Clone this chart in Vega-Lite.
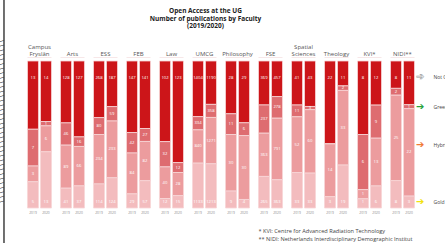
{
  "$schema": "https://vega.github.io/schema/vega-lite/v6.json",
  "width": 396,
  "height": 147,
  "autosize": "none",
  "padding": {"left": 23, "top": 61, "right": 26, "bottom": 35},
  "background": "white",
  "config": {"view": {"stroke": null}, "font": "Open Sans"},
  "resolve": {"axis": {"x": "independent", "y": "independent"}},
  "data": {"values": [
    {"f":"Campus Fryslân","y":"2019","c":"Not OA","k":4,"n":13},{"f":"Campus Fryslân","y":"2019","c":"Green","k":3,"n":7},{"f":"Campus Fryslân","y":"2019","c":"Hybrid","k":2,"n":3},{"f":"Campus Fryslân","y":"2019","c":"Gold","k":1,"n":5},
    {"f":"Campus Fryslân","y":"2020","c":"Not OA","k":4,"n":14},{"f":"Campus Fryslân","y":"2020","c":"Green","k":3,"n":1},{"f":"Campus Fryslân","y":"2020","c":"Hybrid","k":2,"n":6},{"f":"Campus Fryslân","y":"2020","c":"Gold","k":1,"n":13},
    {"f":"Arts","y":"2019","c":"Not OA","k":4,"n":128},{"f":"Arts","y":"2019","c":"Green","k":3,"n":46},{"f":"Arts","y":"2019","c":"Hybrid","k":2,"n":89},{"f":"Arts","y":"2019","c":"Gold","k":1,"n":41},
    {"f":"Arts","y":"2020","c":"Not OA","k":4,"n":127},{"f":"Arts","y":"2020","c":"Green","k":3,"n":16},{"f":"Arts","y":"2020","c":"Hybrid","k":2,"n":66},{"f":"Arts","y":"2020","c":"Gold","k":1,"n":37},
    {"f":"ESS","y":"2019","c":"Not OA","k":4,"n":268},{"f":"ESS","y":"2019","c":"Green","k":3,"n":80},{"f":"ESS","y":"2019","c":"Hybrid","k":2,"n":234},{"f":"ESS","y":"2019","c":"Gold","k":1,"n":114},
    {"f":"ESS","y":"2020","c":"Not OA","k":4,"n":187},{"f":"ESS","y":"2020","c":"Green","k":3,"n":59},{"f":"ESS","y":"2020","c":"Hybrid","k":2,"n":233},{"f":"ESS","y":"2020","c":"Gold","k":1,"n":124},
    {"f":"FEB","y":"2019","c":"Not OA","k":4,"n":147},{"f":"FEB","y":"2019","c":"Green","k":3,"n":42},{"f":"FEB","y":"2019","c":"Hybrid","k":2,"n":84},{"f":"FEB","y":"2019","c":"Gold","k":1,"n":29},
    {"f":"FEB","y":"2020","c":"Not OA","k":4,"n":141},{"f":"FEB","y":"2020","c":"Green","k":3,"n":27},{"f":"FEB","y":"2020","c":"Hybrid","k":2,"n":82},{"f":"FEB","y":"2020","c":"Gold","k":1,"n":57},
    {"f":"Law","y":"2019","c":"Not OA","k":4,"n":102},{"f":"Law","y":"2019","c":"Green","k":3,"n":32},{"f":"Law","y":"2019","c":"Hybrid","k":2,"n":40},{"f":"Law","y":"2019","c":"Gold","k":1,"n":12},
    {"f":"Law","y":"2020","c":"Not OA","k":4,"n":123},{"f":"Law","y":"2020","c":"Green","k":3,"n":12},{"f":"Law","y":"2020","c":"Hybrid","k":2,"n":28},{"f":"Law","y":"2020","c":"Gold","k":1,"n":15},
    {"f":"UMCG","y":"2019","c":"Not OA","k":4,"n":1404},{"f":"UMCG","y":"2019","c":"Green","k":3,"n":334},{"f":"UMCG","y":"2019","c":"Hybrid","k":2,"n":840},{"f":"UMCG","y":"2019","c":"Gold","k":1,"n":1133},
    {"f":"UMCG","y":"2020","c":"Not OA","k":4,"n":1190},{"f":"UMCG","y":"2020","c":"Green","k":3,"n":358},{"f":"UMCG","y":"2020","c":"Hybrid","k":2,"n":1271},{"f":"UMCG","y":"2020","c":"Gold","k":1,"n":1213},
    {"f":"Philosophy","y":"2019","c":"Not OA","k":4,"n":28},{"f":"Philosophy","y":"2019","c":"Green","k":3,"n":11},{"f":"Philosophy","y":"2019","c":"Hybrid","k":2,"n":30},{"f":"Philosophy","y":"2019","c":"Gold","k":1,"n":9},
    {"f":"Philosophy","y":"2020","c":"Not OA","k":4,"n":29},{"f":"Philosophy","y":"2020","c":"Green","k":3,"n":6},{"f":"Philosophy","y":"2020","c":"Hybrid","k":2,"n":30},{"f":"Philosophy","y":"2020","c":"Gold","k":1,"n":4},
    {"f":"FSE","y":"2019","c":"Not OA","k":4,"n":369},{"f":"FSE","y":"2019","c":"Green","k":3,"n":237},{"f":"FSE","y":"2019","c":"Hybrid","k":2,"n":363},{"f":"FSE","y":"2019","c":"Gold","k":1,"n":265},
    {"f":"FSE","y":"2020","c":"Not OA","k":4,"n":457},{"f":"FSE","y":"2020","c":"Green","k":3,"n":278},{"f":"FSE","y":"2020","c":"Hybrid","k":2,"n":791},{"f":"FSE","y":"2020","c":"Gold","k":1,"n":363},
    {"f":"Spatial Sciences","y":"2019","c":"Not OA","k":4,"n":41},{"f":"Spatial Sciences","y":"2019","c":"Green","k":3,"n":11},{"f":"Spatial Sciences","y":"2019","c":"Hybrid","k":2,"n":52},{"f":"Spatial Sciences","y":"2019","c":"Gold","k":1,"n":33},
    {"f":"Spatial Sciences","y":"2020","c":"Not OA","k":4,"n":43},{"f":"Spatial Sciences","y":"2020","c":"Green","k":3,"n":3},{"f":"Spatial Sciences","y":"2020","c":"Hybrid","k":2,"n":60},{"f":"Spatial Sciences","y":"2020","c":"Gold","k":1,"n":33},
    {"f":"Theology","y":"2019","c":"Not OA","k":4,"n":22},{"f":"Theology","y":"2019","c":"Green","k":3,"n":0},{"f":"Theology","y":"2019","c":"Hybrid","k":2,"n":14},{"f":"Theology","y":"2019","c":"Gold","k":1,"n":3},
    {"f":"Theology","y":"2020","c":"Not OA","k":4,"n":11},{"f":"Theology","y":"2020","c":"Green","k":3,"n":2},{"f":"Theology","y":"2020","c":"Hybrid","k":2,"n":33},{"f":"Theology","y":"2020","c":"Gold","k":1,"n":19},
    {"f":"KVI*","y":"2019","c":"Not OA","k":4,"n":8},{"f":"KVI*","y":"2019","c":"Green","k":3,"n":6},{"f":"KVI*","y":"2019","c":"Hybrid","k":2,"n":1},{"f":"KVI*","y":"2019","c":"Gold","k":1,"n":1},
    {"f":"KVI*","y":"2020","c":"Not OA","k":4,"n":12},{"f":"KVI*","y":"2020","c":"Green","k":3,"n":9},{"f":"KVI*","y":"2020","c":"Hybrid","k":2,"n":13},{"f":"KVI*","y":"2020","c":"Gold","k":1,"n":6},
    {"f":"NIDI**","y":"2019","c":"Not OA","k":4,"n":8},{"f":"NIDI**","y":"2019","c":"Green","k":3,"n":2},{"f":"NIDI**","y":"2019","c":"Hybrid","k":2,"n":25},{"f":"NIDI**","y":"2019","c":"Gold","k":1,"n":8},
    {"f":"NIDI**","y":"2020","c":"Not OA","k":4,"n":11},{"f":"NIDI**","y":"2020","c":"Green","k":3,"n":1},{"f":"NIDI**","y":"2020","c":"Hybrid","k":2,"n":22},{"f":"NIDI**","y":"2020","c":"Gold","k":1,"n":3}
  ]},
  "layer": [
    {
      "mark": {"type": "bar", "stroke": "#f7d6d7", "strokeWidth": 0.8},
      "encoding": {
        "x": {"field": "f", "type": "nominal", "sort": null,
          "scale": {"domain": ["Campus Fryslân","Arts","ESS","FEB","Law","UMCG","Philosophy","FSE","Spatial Sciences","Theology","KVI*","NIDI**"], "paddingInner": 0.273, "paddingOuter": 0.136},
          "axis": {"orient": "top", "domain": false, "ticks": false, "labelAngle": 0, "labelFontSize": 6, "labelColor": "#555", "labelPadding": 12, "labelLineHeight": 7, "labelFont": "Open Sans", "labelOverlap": false, "labelLimit": 60,
            "labelExpr": "datum.value == 'Campus Fryslân' ? ['Campus', 'Fryslân'] : datum.value == 'Spatial Sciences' ? ['Spatial', 'Sciences'] : ['', datum.value]",
            "title": ["Open Access at the UG", "Number of publications by Faculty", "(2019/2020)"],
            "titleFont": "Open Sans", "titleFontSize": 6.5, "titleFontWeight": "bold", "titleColor": "#222", "titleLineHeight": 7.5,
            "titleX": 182, "titleY": -53.5, "titleAlign": "center", "titleBaseline": "top", "titleAngle": 0}},
        "xOffset": {"field": "y", "type": "nominal", "scale": {"paddingInner": 0.154, "paddingOuter": 0}},
        "y": {"field": "n", "type": "quantitative", "stack": "normalize", "axis": null},
        "color": {"field": "c", "type": "nominal", "legend": null,
          "scale": {"domain": ["Not OA", "Green", "Hybrid", "Gold"], "range": ["#cc1519", "#de6c70", "#ec9c9e", "#f3bcbe"]}},
        "order": {"field": "k", "type": "quantitative"}
      }
    },
    {
      "mark": {"type": "text", "color": "white", "fontSize": 4.2, "baseline": "middle", "dy": 17},
      "encoding": {
        "x": {"field": "f", "type": "nominal", "sort": null, "axis": null},
        "xOffset": {"field": "y", "type": "nominal"},
        "y": {"field": "n", "type": "quantitative", "stack": "normalize", "axis": null},
        "order": {"field": "k", "type": "quantitative"},
        "text": {"condition": {"test": "datum.c === 'Not OA'", "field": "n", "type": "quantitative"}, "value": ""}
      }
    },
    {
      "mark": {"type": "text", "color": "white", "fontSize": 4.2, "baseline": "middle"},
      "encoding": {
        "x": {"field": "f", "type": "nominal", "sort": null, "axis": null},
        "xOffset": {"field": "y", "type": "nominal"},
        "y": {"field": "n", "type": "quantitative", "stack": "normalize", "bandPosition": 0.5, "axis": null},
        "order": {"field": "k", "type": "quantitative"},
        "text": {"condition": {"test": "(datum.c === 'Green' || datum.c === 'Hybrid') && datum.n > 0", "field": "n", "type": "quantitative"}, "value": ""}
      }
    },
    {
      "mark": {"type": "text", "color": "white", "fontSize": 4.2, "baseline": "middle", "dy": -6},
      "encoding": {
        "x": {"field": "f", "type": "nominal", "sort": null, "axis": null},
        "xOffset": {"field": "y", "type": "nominal"},
        "y": {"field": "n", "type": "quantitative", "stack": "normalize", "bandPosition": 0, "axis": null},
        "order": {"field": "k", "type": "quantitative"},
        "text": {"condition": {"test": "datum.c === 'Gold'", "field": "n", "type": "quantitative"}, "value": ""}
      }
    },
    {
      "transform": [{"filter": "datum.c === 'Gold'"}],
      "mark": {"type": "text", "color": "#888", "fontSize": 3.3, "baseline": "top", "dy": 2.5},
      "encoding": {
        "x": {"field": "f", "type": "nominal", "sort": null, "axis": null},
        "xOffset": {"field": "y", "type": "nominal"},
        "y": {"datum": 0, "type": "quantitative", "axis": null},
        "text": {"field": "y", "type": "nominal"}
      }
    },
    {
      "transform": [{"filter": "datum.c === 'Gold' && datum.y === '2019'"}],
      "mark": {"type": "tick", "color": "#efcfd0", "thickness": 0.7, "size": 24, "yOffset": -3.5, "orient": "horizontal"},
      "encoding": {
        "x": {"field": "f", "type": "nominal", "sort": null, "axis": null},
        "y": {"datum": 1, "type": "quantitative", "axis": null}
      }
    },
    {
      "transform": [{"filter": "datum.f === 'NIDI**' && datum.y === '2020'"}],
      "encoding": {
        "x": {"field": "f", "type": "nominal", "sort": null, "axis": null},
        "xOffset": {"field": "y", "type": "nominal"},
        "order": {"field": "k", "type": "quantitative"}
      },
      "layer": [
        {
          "mark": {"type": "text", "font": "DejaVu Sans", "fontSize": 10, "align": "left", "baseline": "middle", "dx": 7, "stroke": "#999", "strokeWidth": 0.4},
          "encoding": {
            "y": {"field": "n", "type": "quantitative", "stack": "normalize", "bandPosition": 0.64, "axis": null},
            "text": {"condition": {"test": "datum.c === 'Not OA'", "value": "➔"}, "value": ""},
            "color": {"value": "#e6e6e6"}
          }
        },
        {
          "mark": {"type": "text", "fontSize": 5, "align": "left", "baseline": "middle", "dx": 24.5, "color": "#444"},
          "encoding": {
            "y": {"field": "n", "type": "quantitative", "stack": "normalize", "bandPosition": 0.64, "axis": null},
            "text": {"condition": {"test": "datum.c === 'Not OA'", "value": "Not OA"}, "value": ""}
          }
        },
        {
          "mark": {"type": "text", "font": "DejaVu Sans", "fontSize": 10, "align": "left", "baseline": "middle", "dx": 7, "color": "#27a33b"},
          "encoding": {
            "y": {"field": "n", "type": "quantitative", "stack": "normalize", "bandPosition": 0.5, "axis": null},
            "text": {"condition": {"test": "datum.c === 'Green'", "value": "➔"}, "value": ""}
          }
        },
        {
          "mark": {"type": "text", "fontSize": 5, "align": "left", "baseline": "middle", "dx": 24.5, "color": "#444"},
          "encoding": {
            "y": {"field": "n", "type": "quantitative", "stack": "normalize", "bandPosition": 0.5, "axis": null},
            "text": {"condition": {"test": "datum.c === 'Green'", "value": "Green"}, "value": ""}
          }
        },
        {
          "mark": {"type": "text", "font": "DejaVu Sans", "fontSize": 10, "align": "left", "baseline": "middle", "dx": 7, "color": "#f07a35"},
          "encoding": {
            "y": {"field": "n", "type": "quantitative", "stack": "normalize", "bandPosition": 0.59, "axis": null},
            "text": {"condition": {"test": "datum.c === 'Hybrid'", "value": "➔"}, "value": ""}
          }
        },
        {
          "mark": {"type": "text", "fontSize": 5, "align": "left", "baseline": "middle", "dx": 24.5, "color": "#444"},
          "encoding": {
            "y": {"field": "n", "type": "quantitative", "stack": "normalize", "bandPosition": 0.59, "axis": null},
            "text": {"condition": {"test": "datum.c === 'Hybrid'", "value": "Hybrid"}, "value": ""}
          }
        },
        {
          "mark": {"type": "text", "font": "DejaVu Sans", "fontSize": 10, "align": "left", "baseline": "middle", "dx": 7, "color": "#f2e20c"},
          "encoding": {
            "y": {"field": "n", "type": "quantitative", "stack": "normalize", "bandPosition": 0.5, "axis": null},
            "text": {"condition": {"test": "datum.c === 'Gold'", "value": "➔"}, "value": ""}
          }
        },
        {
          "mark": {"type": "text", "fontSize": 5, "align": "left", "baseline": "middle", "dx": 24.5, "color": "#444"},
          "encoding": {
            "y": {"field": "n", "type": "quantitative", "stack": "normalize", "bandPosition": 0.5, "axis": null},
            "text": {"condition": {"test": "datum.c === 'Gold'", "value": "Gold"}, "value": ""}
          }
        }
      ]
    },
    {
      "data": {"values": [{"note": "footnotes"}]},
      "mark": {"type": "text", "fontSize": 5.6, "align": "left", "baseline": "middle", "dy": 23, "lineHeight": 8, "color": "#444"},
      "encoding": {
        "x": {"datum": "FSE", "bandPosition": 0, "axis": null},
        "y": {"datum": 0, "type": "quantitative", "axis": null},
        "text": {"value": ["* KVI: Centre for Advanced Radiation Technology", "** NIDI: Netherlands Interdisciplinary Demographic Institut"]}
      }
    },
    {
      "data": {"values": [{"edge": "torn edge"}]},
      "layer": [
        {
          "mark": {"type": "rule", "color": "#111", "strokeWidth": 1.2, "xOffset": -23.5, "yOffset": 35, "y2Offset": -61},
          "encoding": {
            "x": {"datum": "Campus Fryslân", "bandPosition": 0, "axis": null},
            "y": {"datum": 0, "type": "quantitative", "axis": null},
            "y2": {"datum": 1}
          }
        },
        {
          "mark": {"type": "text", "angle": 270, "font": "DejaVu Sans", "fontSize": 7, "color": "#111", "baseline": "alphabetic", "align": "center", "xOffset": -24, "yOffset": -13},
          "encoding": {
            "x": {"datum": "Campus Fryslân", "bandPosition": 0, "axis": null},
            "y": {"datum": 0.5, "type": "quantitative", "axis": null},
            "text": {"value": "\\  \\  \\  \\  \\  \\  \\  \\  \\  \\  \\  \\  \\  \\  \\  \\  \\  \\  \\  \\  \\  \\  \\  \\  \\  \\  \\  \\  \\  \\  \\  \\  \\  \\  \\  \\  "}
          }
        }
      ]
    }
  ]
}
